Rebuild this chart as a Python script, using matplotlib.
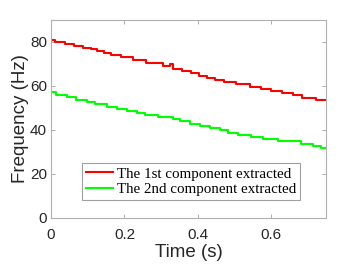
import matplotlib
matplotlib.use('Agg')
from matplotlib import pyplot as plt

# step times (s) and frequencies (Hz)
t1 = [0.0, 0.010, 0.037, 0.063, 0.087, 0.108, 0.126, 0.144, 0.164, 0.191, 0.223, 0.259,
      0.306, 0.325, 0.331, 0.357, 0.381, 0.403, 0.426, 0.446, 0.472, 0.505, 0.541, 0.571,
      0.600, 0.630, 0.659, 0.685, 0.723, 0.75]
f1 = [80.8, 80.1, 79.2, 78.3, 77.4, 76.6, 75.8, 75.0, 74.1, 73.1, 71.8, 70.3,
      69.2, 69.9, 67.7, 66.7, 65.8, 64.7, 63.7, 62.8, 61.7, 60.7, 59.7, 58.7,
      57.6, 56.7, 55.7, 54.6, 53.7, 53.7]

t2 = [0.0, 0.012, 0.042, 0.069, 0.097, 0.120, 0.152, 0.179, 0.206, 0.233, 0.256, 0.292,
      0.333, 0.351, 0.378, 0.405, 0.433, 0.460, 0.483, 0.510, 0.546, 0.578, 0.619, 0.682,
      0.714, 0.737, 0.75]
f2 = [57.2, 56.1, 54.9, 53.8, 52.7, 51.6, 50.5, 49.5, 48.5, 47.6, 46.9, 45.8,
      44.8, 43.9, 42.9, 41.9, 40.8, 39.8, 38.7, 37.6, 36.8, 35.7, 34.8, 33.8,
      32.7, 31.8, 31.8]

labels = ['The 1st component extracted', 'The 2nd component extracted']

fig = plt.figure(figsize=(3.6, 2.7), dpi=100)
ax = fig.add_axes([0.142, 0.193, 0.764, 0.733])
ax.step(t1, f1, where='post', color='#ff0000', lw=1.5, label=labels[0])
ax.step(t2, f2, where='post', color='#00ff00', lw=1.5, label=labels[1])

ax.set_xlim(0, 0.75)
ax.set_ylim(0, 90)
ax.set_xticks([0, 0.2, 0.4, 0.6])
ax.set_xticklabels(['0', '0.2', '0.4', '0.6'])
ax.set_yticks([0, 20, 40, 60, 80])
ax.tick_params(direction='in', top=True, right=True, length=3, width=0.6,
               color='#a0a0a0', labelsize=11, labelcolor='#262626', pad=3)
ax.tick_params(axis='x', pad=7)
for lab in ax.get_xticklabels() + ax.get_yticklabels():
    lab.set_family('Liberation Sans')
for s in ax.spines.values():
    s.set_color('#b0b0b0')
    s.set_linewidth(0.8)

ax.set_xlabel('Time (s)', fontsize=13.5, family='Liberation Sans', color='#262626', labelpad=2)
ax.set_ylabel('Frequency (Hz)', fontsize=13.5, family='Liberation Sans', color='#262626', labelpad=1)

leg = ax.legend(loc='lower left', bbox_to_anchor=(0.113, 0.09), prop={'family': 'Liberation Serif', 'size': 10.8},
                fancybox=False, edgecolor='#a0a0a0', framealpha=1, handlelength=1.8,
                borderpad=0.25, labelspacing=0.15, handletextpad=0.3, borderaxespad=0)
leg.get_frame().set_linewidth(0.8)

plt.savefig('out.png', dpi=100)
